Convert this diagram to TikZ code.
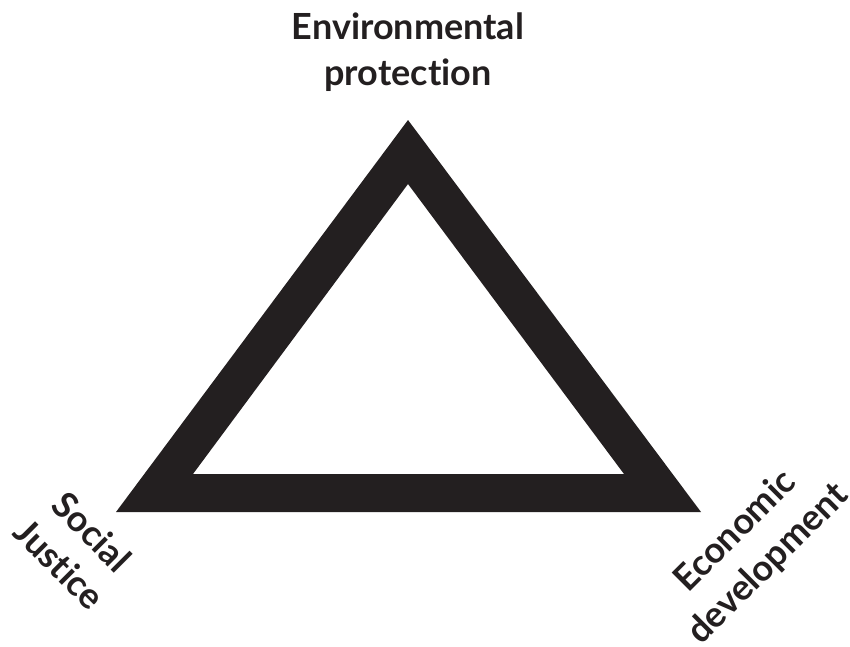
\documentclass[tikz,border=0pt]{standalone}
\usepackage{fontspec}
\setmainfont{Lato}[Ligatures=NoCommon]
\begin{document}
\begin{tikzpicture}[x=1pt, y=-1pt]
	\definecolor{ink}{HTML}{231F20}
	\tikzset{label/.style={font=\bfseries\fontsize{36}{46}\selectfont, text=ink, align=center, inner sep=0pt}}
	\useasboundingbox (0,0) rectangle (850,646);

	% triangle, outer and inner corners
	\coordinate (top) at (408,120);
	\coordinate (left) at (116,512);
	\coordinate (right) at (701,512);
	\coordinate (itop) at (408,184);
	\coordinate (ileft) at (193,474);
	\coordinate (iright) at (624,474);
	\fill[ink, even odd rule] (top) -- (right) -- (left) -- cycle
		(itop) -- (iright) -- (ileft) -- cycle;

	\node[label] (env) at (408,52) {Environmental\\protection};
	\node[label, rotate=-45] (soc) at (76,548) {Social\\Justice};
	\node[label, rotate=45] (eco) at (752,548) {Economic\\development};
\end{tikzpicture}
\end{document}
